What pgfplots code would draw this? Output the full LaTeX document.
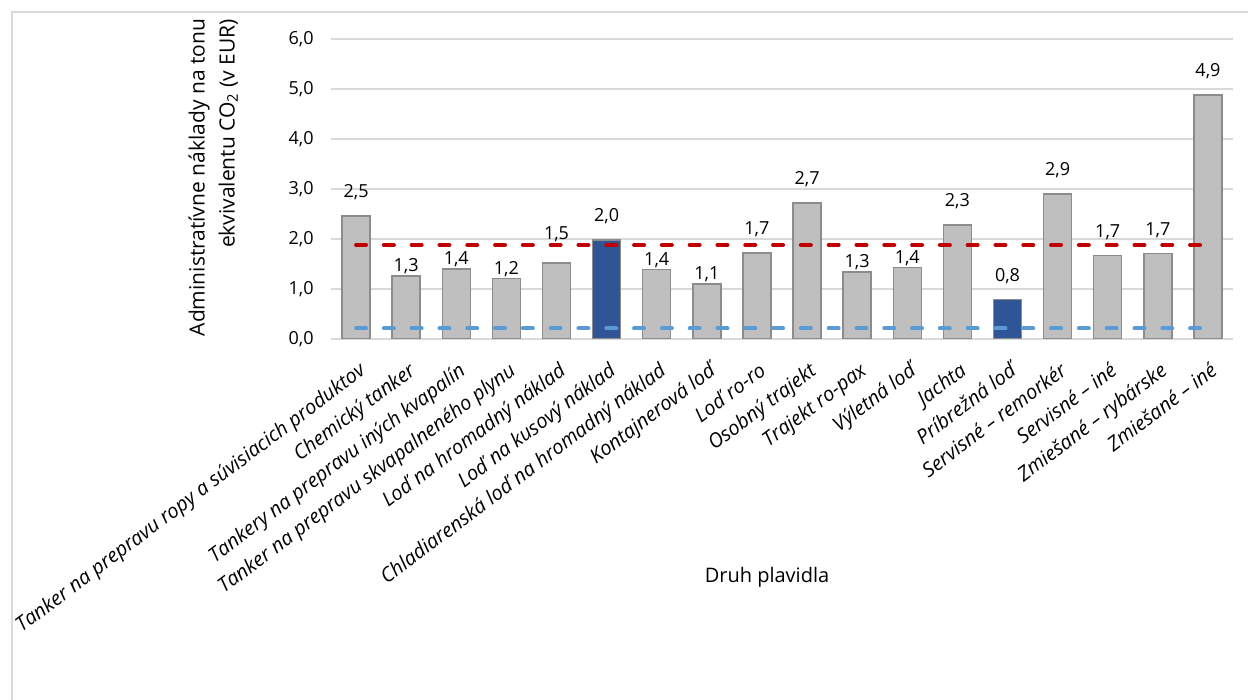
\documentclass[border=0pt]{standalone}
\usepackage{fontspec}
\setmainfont{Open Sans}
\usepackage{pgfplots}
\pgfplotsset{compat=1.18}
\definecolor{barGray}{HTML}{BFBFBF}
\definecolor{edgeGray}{HTML}{8C8C8C}
\definecolor{barBlue}{HTML}{2F5597}
\definecolor{gridGray}{HTML}{D9D9D9}
\definecolor{lineRed}{HTML}{C00000}
\definecolor{lineBlue}{HTML}{5B9BD5}
\definecolor{frameGray}{HTML}{D9D9D9}
\pgfplotsset{
  lbl/.style={every node near coord/.append style={anchor=base, inner sep=0pt, yshift=#1, font=\fontsize{9}{11}\selectfont, text=black}},
  barg/.style={ybar, bar width=14pt, bar shift=0pt, fill=barGray, draw=edgeGray, line width=0.75pt, nodes near coords},
  barb/.style={ybar, bar width=14pt, bar shift=0pt, fill=barBlue, draw=edgeGray, line width=0.75pt, nodes near coords},
}
\begin{document}
\begin{tikzpicture}
\useasboundingbox (0,0) rectangle (624pt,350pt);
\draw[frameGray, line width=0.8pt] (6pt,-20pt) -- (6pt,344pt) -- (650pt,344pt);
\begin{axis}[
  at={(165.5pt,180.5pt)}, anchor=south west,
  width=451pt, height=150pt, scale only axis,
  xmin=-0.5, xmax=17.5, ymin=0, ymax=6,
  axis line style={draw=none},
  tick style={draw=none},
  ymajorgrids,
  major grid style={gridGray, line width=0.8pt},
  /pgf/number format/.cd, use comma, fixed, fixed zerofill, precision=1, assume math mode=true,
  /pgfplots/.cd,
  ytick={0,1,2,3,4,5,6},
  yticklabel style={anchor=east, inner sep=0pt, xshift=-8.5pt, font=\fontsize{9}{11}\selectfont},
  xtick={0,...,17},
  xticklabels={Tanker na prepravu ropy a súvisiacich produktov, Chemický tanker, Tankery na prepravu iných kvapalín, Tanker na prepravu skvapalneného plynu, Loď na hromadný náklad, Loď na kusový náklad, Chladiarenská loď na hromadný náklad, Kontajnerová loď, Loď ro-ro, Osobný trajekt, Trajekt ro-pax, Výletná loď, Jachta, Príbrežná loď, Servisné – remorkér, Servisné – iné, Zmiešané – rybárske, Zmiešané – iné},
  xticklabel style={rotate=37, anchor=north east, inner sep=0pt, yshift=-9pt, xshift=-6pt, font=\fontsize{10}{12}\selectfont\itshape},
  xlabel={Druh plavidla},
  xlabel style={at={(axis description cs:0.5,0)}, anchor=center, yshift=-119pt, xshift=-7.5pt, font=\fontsize{10}{12}\selectfont},
  ylabel={Administratívne náklady na tonu\\ekvivalentu CO\textsubscript{2} (v EUR)},
  ylabel style={at={(axis description cs:-0.0953,0.538)}, anchor=south, rotate=0, align=right, font=\fontsize{10.5}{15}\selectfont},
]
% gray bars, label high
\addplot[barg, lbl=9pt] coordinates {(0,2.46) (8,1.72) (9,2.72) (12,2.28) (14,2.90) (15,1.67) (16,1.71) (17,4.88)};
% gray bars, label close
\addplot[barg, lbl=2pt] coordinates {(1,1.26) (2,1.40) (3,1.21) (6,1.39) (7,1.10) (10,1.34) (11,1.43)};
% gray bar, label raised
\addplot[barg, lbl=11.5pt] coordinates {(4,1.52)};
% highlighted bars
\addplot[barb, lbl=9pt] coordinates {(5,1.98) (13,0.79)};
% reference lines
\addplot[lineRed, line width=2pt, line cap=round, dash pattern=on 5pt off 8.9pt] coordinates {(0,1.88) (17,1.88)};
\addplot[lineBlue, line width=2pt, line cap=round, dash pattern=on 5pt off 8.9pt] coordinates {(0,0.21) (17,0.21)};
\end{axis}
\end{tikzpicture}
\end{document}
